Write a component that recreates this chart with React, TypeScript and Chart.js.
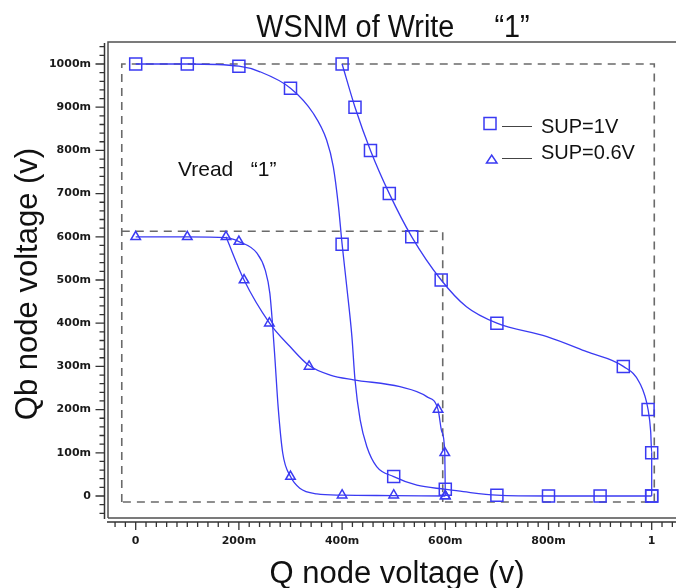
import React, { useEffect, useRef } from "react";
import { Chart, registerables } from "chart.js";

Chart.register(...registerables);

const W = 676;
const H = 588;

// ---- axes ----
const xRange = [-0.0537, 1.0471];
const yRange = [-0.0509, 1.0509];
const xTickValues = [0, 0.2, 0.4, 0.6, 0.8, 1.0];
const xTickLabels = ["0", "200m", "400m", "600m", "800m", "1"];
const yTickValues = [0, 0.1, 0.2, 0.3, 0.4, 0.5, 0.6, 0.7, 0.8, 0.9, 1.0];
const yTickLabels = ["0", "100m", "200m", "300m", "400m", "500m", "600m", "700m", "800m", "900m", "1000m"];

// ---- texts ----
const titleText = "WSNM of Write     \u201C1\u201D";
const xTitle = "Q node voltage (v)";
const yTitle = "Qb node voltage (v)";
const vreadText = "Vread   \u201C1\u201D";
const legendLabels = ["SUP=1V", "SUP=0.6V"];

// ---- SUP=1V curves (squares) ----
const sup1CurveA: [number, number][] = [
  [0, 1.0], [0.1, 1.0], [0.2, 0.995], [0.241, 0.982], [0.3, 0.944], [0.344, 0.886],
  [0.37, 0.824], [0.383, 0.762], [0.393, 0.67], [0.4, 0.583], [0.409, 0.485],
  [0.419, 0.369], [0.425, 0.269], [0.435, 0.176], [0.448, 0.114], [0.467, 0.068],
  [0.5, 0.045], [0.545, 0.025], [0.6, 0.0155], [0.635, 0.01], [0.7, 0.002],
  [0.8, 0.0], [0.9, 0.0], [1.0, 0.0],
];
const sup1MarkersA: [number, number][] = [
  [0, 1.0], [0.1, 1.0], [0.2, 0.995], [0.3, 0.944], [0.4, 0.583], [0.5, 0.045],
  [0.6, 0.0155], [0.7, 0.002], [0.8, 0.0], [0.9, 0.0], [1.0, 0.0],
];
const sup1CurveB: [number, number][] = [
  [0.4, 1.0], [0.425, 0.9], [0.455, 0.8], [0.4915, 0.7], [0.535, 0.6], [0.592, 0.5],
  [0.641, 0.438], [0.7, 0.4], [0.797, 0.369], [0.874, 0.334], [0.945, 0.3],
  [0.977, 0.261], [0.993, 0.2], [0.998, 0.15], [1.0, 0.1], [1.0, 0.0],
];
const sup1MarkersB: [number, number][] = [
  [0.4, 1.0], [0.425, 0.9], [0.455, 0.8], [0.4915, 0.7], [0.535, 0.6], [0.592, 0.5],
  [0.7, 0.4], [0.945, 0.3], [0.993, 0.2], [1.0, 0.1], [1.0, 0.0],
];

// ---- SUP=0.6V curves (triangles) ----
const sup06CurveC: [number, number][] = [
  [0, 0.6], [0.1, 0.6], [0.175, 0.598], [0.2, 0.589], [0.235, 0.562], [0.251, 0.523],
  [0.26, 0.469], [0.265, 0.4], [0.27, 0.315], [0.276, 0.207], [0.285, 0.099],
  [0.3, 0.045], [0.318, 0.018], [0.351, 0.005], [0.4, 0.002], [0.5, 0.001], [0.6, 0.0],
];
const sup06MarkersC: [number, number][] = [
  [0, 0.6], [0.1, 0.6], [0.2, 0.589], [0.3, 0.045], [0.4, 0.002], [0.5, 0.002], [0.6, 0.0],
];
const sup06CurveD: [number, number][] = [
  [0.175, 0.6], [0.21, 0.5], [0.259, 0.401], [0.299, 0.346], [0.336, 0.302],
  [0.377, 0.28], [0.422, 0.269], [0.512, 0.253], [0.564, 0.23], [0.586, 0.2],
  [0.593, 0.15], [0.599, 0.1], [0.6, 0.0],
];
const sup06MarkersD: [number, number][] = [
  [0.175, 0.6], [0.21, 0.5], [0.259, 0.4], [0.336, 0.3], [0.586, 0.2], [0.599, 0.1], [0.6, 0.0],
];

// ---- dashed noise-margin boxes ----
const boxOuter: [number, number][] = [
  [-0.027, -0.014], [-0.027, 1.0], [1.005, 1.0], [1.005, -0.014], [-0.027, -0.014],
];
const boxInner: [number, number][] = [
  [-0.027, 0.613], [0.595, 0.613], [0.595, -0.014],
];

const BLUE = "#3a3af2";
const SANS = '"Liberation Sans", Arial, sans-serif';
// pixel placement of the unit square of data (x: 0..1, y: 0..1)
const X0 = 135.7;
const X1 = 651.7;
const Y0 = 496;
const Y1 = 64;

const pts = (a: [number, number][]) => a.map(([x, y]) => ({ x, y }));

const lineDs = (a: [number, number][]) => ({
  data: pts(a),
  showLine: true,
  borderColor: BLUE,
  borderWidth: 1.3,
  pointRadius: 0,
  cubicInterpolationMode: "monotone" as const,
  fill: false,
});
const markDs = (a: [number, number][], style: string, r: number) => ({
  data: pts(a),
  showLine: false,
  pointStyle: style,
  pointRadius: r,
  pointBorderColor: BLUE,
  borderColor: BLUE,
  pointBackgroundColor: "rgba(0,0,0,0)",
  backgroundColor: "rgba(0,0,0,0)",
  pointBorderWidth: 1.5,
});
const boxDs = (a: [number, number][]) => ({
  data: pts(a),
  showLine: true,
  borderColor: "#6a6a6a",
  borderWidth: 1.6,
  borderDash: [8, 6],
  pointRadius: 0,
  tension: 0,
  fill: false,
});

const decor = {
  id: "decor",
  beforeDatasetsDraw(chart: any) {
    const { ctx, chartArea: ca, scales } = chart;
    const xs = scales.x;
    const ys = scales.y;
    ctx.save();
    ctx.strokeStyle = "#505050";
    ctx.lineWidth = 1.5;
    // frame
    ctx.beginPath();
    ctx.moveTo(ca.left, ca.bottom);
    ctx.lineTo(ca.left, ca.top);
    ctx.lineTo(W + 5, ca.top);
    ctx.moveTo(ca.left, ca.bottom);
    ctx.lineTo(W + 5, ca.bottom);
    ctx.stroke();
    // axis lines
    const ax = ca.left - 3.5;
    const ay = ca.bottom + 4;
    ctx.strokeStyle = "#333";
    ctx.beginPath();
    ctx.moveTo(ax, ca.top + 1);
    ctx.lineTo(ax, ca.bottom + 1);
    ctx.moveTo(ca.left - 1, ay);
    ctx.lineTo(W + 5, ay);
    ctx.stroke();
    ctx.lineWidth = 1.3;
    ctx.beginPath();
    for (let i = -3; i <= 53; i++) {
      const py = ys.getPixelForValue(i * 0.02);
      if (py < ca.top + 2 || py > ca.bottom - 1) continue;
      const len = i % 5 === 0 ? 9 : 5;
      ctx.moveTo(ax - len, py);
      ctx.lineTo(ax, py);
    }
    for (let i = -3; i <= 53; i++) {
      const px = xs.getPixelForValue(i * 0.02);
      if (px < ca.left - 1 || px > W) continue;
      const len = i % 10 === 0 ? 8 : 5;
      ctx.moveTo(px, ay);
      ctx.lineTo(px, ay + len);
    }
    ctx.stroke();
    ctx.restore();
  },
  afterDraw(chart: any) {
    const { ctx, scales } = chart;
    const xs = scales.x;
    const ys = scales.y;
    ctx.save();
    ctx.fillStyle = "#111";
    // title
    ctx.font = `31px ${SANS}`;
    ctx.textBaseline = "alphabetic";
    ctx.textAlign = "center";
    ctx.save();
    ctx.translate(393, 36.5);
    ctx.scale(0.93, 1);
    ctx.fillText(titleText, 0, 0);
    ctx.restore();
    // x title
    ctx.font = `31px ${SANS}`;
    ctx.fillText(xTitle, 397, 583);
    // y title
    ctx.save();
    ctx.translate(37, 284);
    ctx.rotate(-Math.PI / 2);
    ctx.fillText(yTitle, 0, 0);
    ctx.restore();
    // Vread label
    ctx.font = `21px ${SANS}`;
    ctx.textAlign = "left";
    ctx.fillText(vreadText, xs.getPixelForValue(0.082), ys.getPixelForValue(0.741));
    // legend
    ctx.font = `20px ${SANS}`;
    ctx.fillText(legendLabels[0], 541, 133);
    ctx.fillText(legendLabels[1], 541, 159);
    ctx.strokeStyle = "#444";
    ctx.lineWidth = 1;
    ctx.beginPath();
    ctx.moveTo(502, 126.5);
    ctx.lineTo(532, 126.5);
    ctx.moveTo(502, 158.5);
    ctx.lineTo(532, 158.5);
    ctx.stroke();
    ctx.strokeStyle = BLUE;
    ctx.lineWidth = 1.5;
    ctx.strokeRect(484, 117.5, 12, 12);
    ctx.beginPath();
    ctx.moveTo(486.5, 163);
    ctx.lineTo(497, 163);
    ctx.lineTo(491.7, 155);
    ctx.closePath();
    ctx.stroke();
    ctx.restore();
  },
};

export default function App() {
  const ref = useRef<HTMLCanvasElement>(null);
  useEffect(() => {
    const canvas = ref.current;
    if (!canvas) return;
    const tickFont = { family: '"DejaVu Sans", sans-serif', size: 11, weight: "bold" as const };
    const chart = new Chart(canvas, {
      type: "scatter",
      data: {
        datasets: [
          markDs(sup1MarkersA, "rect", 8.5),
          markDs(sup1MarkersB, "rect", 8.5),
          markDs(sup06MarkersC, "triangle", 5.5),
          markDs(sup06MarkersD, "triangle", 5.5),
          lineDs(sup1CurveA),
          lineDs(sup1CurveB),
          lineDs(sup06CurveC),
          lineDs(sup06CurveD),
          boxDs(boxOuter),
          boxDs(boxInner),
        ] as any,
      },
      options: {
        animation: false,
        responsive: false,
        events: [],
        layout: { padding: { top: 42, left: 0, right: 0, bottom: 0 } },
        plugins: {
          legend: { display: false },
          title: { display: false },
          tooltip: { enabled: false },
        },
        scales: {
          x: {
            type: "linear",
            min: xRange[0],
            max: xRange[1],
            grid: { display: false, drawTicks: false },
            border: { display: false },
            afterFit: (s: any) => {
              s.height = H - 518;
              s.paddingLeft = 0;
              s.paddingRight = 0;
            },
            afterBuildTicks: (s: any) => {
              s.ticks = xTickValues.map((v) => ({ value: v }));
            },
            ticks: {
              padding: 17,
              autoSkip: false,
              maxRotation: 0,
              color: "#1a1a1a",
              font: tickFont,
              callback: (v: any) => {
                const i = xTickValues.findIndex((t) => Math.abs(t - Number(v)) < 1e-9);
                return i >= 0 ? xTickLabels[i] : "";
              },
            },
          },
          y: {
            type: "linear",
            min: yRange[0],
            max: yRange[1],
            grid: { display: false, drawTicks: false },
            border: { display: false },
            afterFit: (s: any) => {
              s.width = 108;
              s.paddingTop = 0;
              s.paddingBottom = 0;
            },
            afterBuildTicks: (s: any) => {
              s.ticks = yTickValues.map((v) => ({ value: v }));
            },
            ticks: {
              padding: 17,
              autoSkip: false,
              color: "#1a1a1a",
              font: tickFont,
              callback: (v: any) => {
                const i = yTickValues.findIndex((t) => Math.abs(t - Number(v)) < 1e-9);
                return i >= 0 ? yTickLabels[i] : "";
              },
            },
          },
        },
      } as any,
      plugins: [decor],
    });
    // second pass: fit the value ranges to the actual plot area so that the
    // data unit square lands where it is in the reference
    const ca = chart.chartArea;
    const xo: any = (chart.options as any).scales.x;
    const yo: any = (chart.options as any).scales.y;
    const kx = X1 - X0;
    const ky = Y0 - Y1;
    xo.min = (ca.left - X0) / kx;
    xo.max = (ca.right - X0) / kx;
    yo.min = (Y0 - ca.bottom) / ky;
    yo.max = (Y0 - ca.top) / ky;
    chart.update("none");
    return () => chart.destroy();
  }, []);
  return (
    <div style={{ position: "fixed", left: 0, top: 0, width: W, height: H, background: "#fff" }}>
      <canvas ref={ref} width={W} height={H} style={{ display: "block", width: W, height: H }} />
    </div>
  );
}
